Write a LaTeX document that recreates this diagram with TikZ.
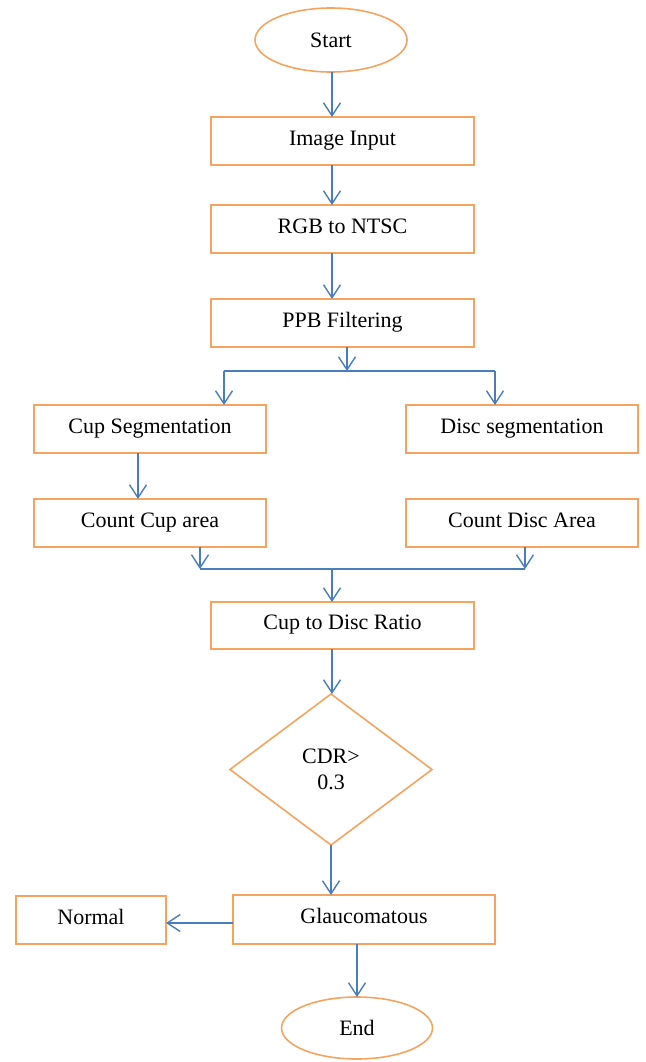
\documentclass[tikz,border=0pt]{standalone}
\usepackage{fontspec}
\setmainfont{Liberation Serif}
\usetikzlibrary{arrows.meta,shapes.geometric}
\definecolor{boxorange}{HTML}{F5A35E}
\definecolor{flowblue}{HTML}{4A7EBB}
\begin{document}
\begin{tikzpicture}[x=1pt,y=-1pt,
  font=\fontsize{22}{26}\selectfont,
  every node/.style={inner sep=0pt, outer sep=0pt, text=black},
  stepbox/.style={draw=boxorange, line width=1.6pt, rectangle, minimum height=48pt,
    text height=15pt, text depth=7pt},
  terminal/.style={draw=boxorange, line width=1.6pt, ellipse},
  decision/.style={draw=boxorange, line width=1.6pt, diamond, align=center},
  flow/.style={draw=flowblue, line width=1.4pt},
  arr/.style={flow, -{Straight Barb[length=13pt,width=17pt,line width=1.4pt]}}]
\useasboundingbox (0,0) rectangle (645,1062);

% process steps
\node[terminal, minimum width=152pt, minimum height=64pt] (start) at (331,40) {Start};
\node[stepbox, minimum width=263pt] (input) at (342.5,141) {Image Input};
\node[stepbox, minimum width=263pt] (rgb) at (342.5,229) {RGB to NTSC};
\node[stepbox, minimum width=263pt] (ppb) at (342.5,323) {PPB Filtering};
\node[stepbox, minimum width=232pt] (cupseg) at (150,429) {Cup Segmentation};
\node[stepbox, minimum width=232pt] (discseg) at (522,429) {Disc segmentation};
\node[stepbox, minimum width=232pt] (cupcount) at (150,523) {Count Cup area};
\node[stepbox, minimum width=232pt] (disccount) at (522,523) {Count Disc Area};
\node[stepbox, minimum width=263pt, minimum height=47pt] (ratio) at (342.5,625.5) {Cup to Disc Ratio};
\node[decision, minimum width=202pt, minimum height=151pt] (cdr) at (331,769.5) {CDR>\\0.3};
\node[stepbox, minimum width=262pt, minimum height=49pt] (glau) at (364,919.5) {Glaucomatous};
\node[stepbox, minimum width=150pt] (normal) at (91,920) {Normal};
\node[terminal, minimum width=151pt, minimum height=62pt] (end) at (357,1028) {End};

% branching and joining points
\coordinate (split) at (347,371);
\coordinate (splitL) at (224,371);
\coordinate (splitR) at (495,371);
\coordinate (joinL) at (200,569);
\coordinate (joinR) at (525,569);
\coordinate (join) at (332,569);

% main line
\draw[arr] ([xshift=1pt]start.south) -- ([xshift=1pt]start.south |- input.north);
\draw[arr] ([xshift=1pt]start.south |- input.south) -- ([xshift=1pt]start.south |- rgb.north);
\draw[arr] ([xshift=1pt]start.south |- rgb.south) -- ([xshift=1pt]start.south |- ppb.north);

% split into cup and disc branches
\draw[arr] (split |- ppb.south) -- (split);
\draw[flow] (splitL) -- (splitR);
\draw[arr] (splitL) -- (splitL |- cupseg.north);
\draw[arr] (splitR) -- (splitR |- discseg.north);
\draw[arr] ([xshift=-12pt]cupseg.south) -- ([xshift=-12pt]cupcount.north);

% join of the two areas
\draw[arr] (joinL |- cupcount.south) -- (joinL);
\draw[arr] (joinR |- disccount.south) -- (joinR);
\draw[flow] (joinL) -- (joinR);
\draw[arr] (join) -- (join |- ratio.north);

% decision and result
\draw[arr] (join |- ratio.south) -- (join |- cdr.north);
\draw[arr] (cdr.south) -- (cdr.south |- glau.north);
\draw[arr] ([yshift=-3.5pt]glau.west) -- ([yshift=-3.5pt]glau.west -| normal.east);
\draw[arr] (end.north |- glau.south) -- (end.north);
\end{tikzpicture}
\end{document}
